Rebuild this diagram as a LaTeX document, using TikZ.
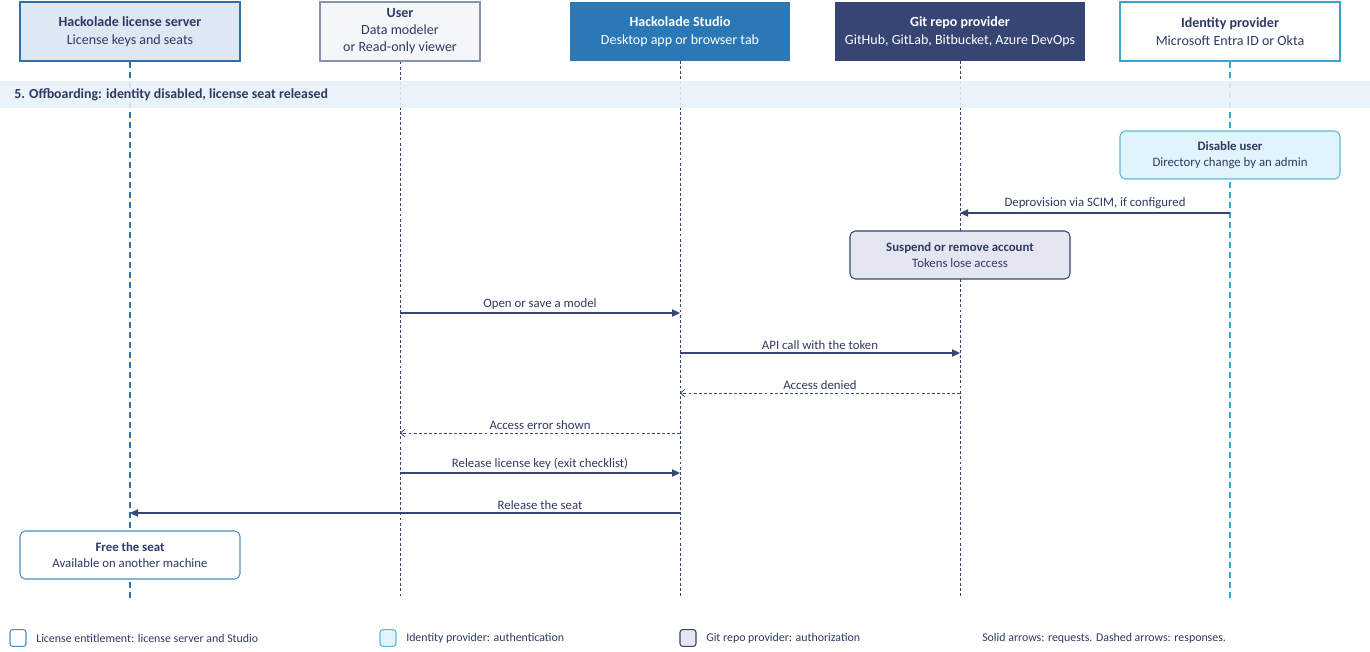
\documentclass[tikz,border=0pt]{standalone}
\usepackage{fontspec}
\setmainfont{Carlito}
\usepackage{tikz}
\usetikzlibrary{arrows.meta}
\definecolor{navyText}{HTML}{2E3A64}
\definecolor{arrowColor}{HTML}{364571}
\definecolor{serverFill}{HTML}{DDE8F4}
\definecolor{serverBorder}{HTML}{2F6FAA}
\definecolor{userFill}{HTML}{F4F6FA}
\definecolor{userBorder}{HTML}{8A93AD}
\definecolor{studioFill}{HTML}{2A78B5}
\definecolor{gitFill}{HTML}{374574}
\definecolor{identityBorder}{HTML}{3AA6D0}
\definecolor{bandFill}{HTML}{E8F1F9}
\definecolor{disableFill}{HTML}{E2F4FB}
\definecolor{disableBorder}{HTML}{5BB8DE}
\definecolor{suspendFill}{HTML}{E4E7F1}
\definecolor{freeBorder}{HTML}{4B8EC7}
\tikzstyle{diagram} = [x = 0.75pt, y = -0.75pt]
\tikzstyle{headerStyle} = [inner sep = 0, minimum width = 165pt, minimum height = 44.25pt, align = center, text = navyText, font = \fontsize{10.5}{13.5}\selectfont]
\tikzstyle{noteStyle} = [rounded corners = 4pt, inner sep = 0, minimum width = 165pt, minimum height = 36pt, align = center, text = navyText, font = \fontsize{9.6}{12}\selectfont, line width = 0.8pt]
\tikzstyle{thinLifeLine} = [arrowColor, line width = 0.45pt, dash pattern = on 2.2pt off 1.6pt]
\tikzstyle{thickLifeLine} = [line width = 1.5pt, dash pattern = on 4.5pt off 3pt]
\tikzstyle{requestLine} = [arrowColor, line width = 0.8pt, -{Triangle[length = 6pt, width = 5.5pt]}]
\tikzstyle{responseLine} = [arrowColor, line width = 0.6pt, dash pattern = on 2.2pt off 1.6pt, -{Straight Barb[length = 3pt, width = 5.5pt]}]
\tikzstyle{messageText} = [midway, above = 2.5pt, inner sep = 0, text = navyText, font = \fontsize{9.6}{11}\selectfont]
\tikzstyle{legendBox} = [rounded corners = 2pt, inner sep = 0, minimum width = 12pt, minimum height = 12.5pt, line width = 0.8pt]
\tikzstyle{legendText} = [anchor = west, inner sep = 0, text = navyText, font = \fontsize{8.9}{10}\selectfont]
\newcommand{\lifeEnd}{598}
\newcommand{\requestArrow}[4]{\draw [requestLine] (#1 |- 0,#3) -- node [messageText] {#4} (#2 |- 0,#3);}
\newcommand{\responseArrow}[4]{\draw [responseLine] (#1 |- 0,#3) -- node [messageText] {#4} (#2 |- 0,#3);}
\begin{document}
\begin{tikzpicture}[diagram]
  \useasboundingbox (0,0) rectangle (1370,652);

  % participants
  \node [headerStyle, fill = serverFill, draw = serverBorder, line width = 1.9pt] (server) at (130,31.5) {\textbf{Hackolade license server}\\License keys and seats};
  \node [headerStyle, fill = userFill, draw = userBorder, line width = 0.8pt, minimum width = 120pt, font = \fontsize{10.5}{12.75}\selectfont] (user) at (400,31.5) {\textbf{User}\\Data modeler\\or Read-only viewer};
  \node [headerStyle, fill = studioFill, text = white] (studio) at (680,31.5) {\textbf{Hackolade Studio}\\Desktop app or browser tab};
  \node [headerStyle, fill = gitFill, text = white, minimum width = 187.5pt] (git) at (960,31.5) {\textbf{Git repo provider}\\GitHub, GitLab, Bitbucket, Azure DevOps};
  \node [headerStyle, fill = white, draw = identityBorder, line width = 1.9pt] (identity) at (1230,31.5) {\textbf{Identity provider}\\Microsoft Entra ID or Okta};

  % lifelines
  \draw [thickLifeLine, serverBorder] (server.south) -- (server.south |- 0,\lifeEnd);
  \draw [thinLifeLine] (user.south) -- (user.south |- 0,\lifeEnd);
  \draw [thinLifeLine] (studio.south) -- (studio.south |- 0,\lifeEnd);
  \draw [thinLifeLine] (git.south) -- (git.south |- 0,\lifeEnd);
  \draw [thickLifeLine, identityBorder] (identity.south) -- (identity.south |- 0,\lifeEnd);

  % phase band
  \fill [bandFill, fill opacity = 0.88] (0,81) rectangle (1370,108);
  \node [anchor = west, inner sep = 0, text = navyText, font = \fontsize{10.4}{12}\selectfont\bfseries] (phase) at (14,94.5) {5. Offboarding: identity disabled, license seat released};

  % notes and messages
  \node [noteStyle, fill = disableFill, draw = disableBorder] (disable) at (1230,155) {\textbf{Disable user}\\Directory change by an admin};
  \requestArrow{identity}{git}{213}{Deprovision via SCIM, if configured}
  \node [noteStyle, fill = suspendFill, draw = arrowColor] (suspend) at (960,255) {\textbf{Suspend or remove account}\\Tokens lose access};
  \requestArrow{user}{studio}{313}{Open or save a model}
  \requestArrow{studio}{git}{353}{API call with the token}
  \responseArrow{git}{studio}{393}{Access denied}
  \responseArrow{studio}{user}{433}{Access error shown}
  \requestArrow{user}{studio}{473}{Release license key (exit checklist)}
  \draw [requestLine] (studio |- 0,513) -- node [messageText, pos = 0.2545] {Release the seat} (server |- 0,513);
  \node [noteStyle, fill = white, draw = freeBorder] (free) at (130,555) {\textbf{Free the seat}\\Available on another machine};

  % legend
  \node [legendBox, fill = white, draw = freeBorder] (keyLicense) at (18,638) {};
  \node [legendText] (keyLicenseText) at (36,638) {License entitlement: license server and Studio};
  \node [legendBox, fill = disableFill, draw = disableBorder] (keyIdentity) at (388,638) {};
  \node [legendText] (keyIdentityText) at (406,638) {Identity provider: authentication};
  \node [legendBox, fill = suspendFill, draw = arrowColor] (keyGit) at (688,638) {};
  \node [legendText] (keyGitText) at (706,638) {Git repo provider: authorization};
  \node [legendText] (keyArrows) at (982,638) {Solid arrows: requests. Dashed arrows: responses.};
\end{tikzpicture}
\end{document}
